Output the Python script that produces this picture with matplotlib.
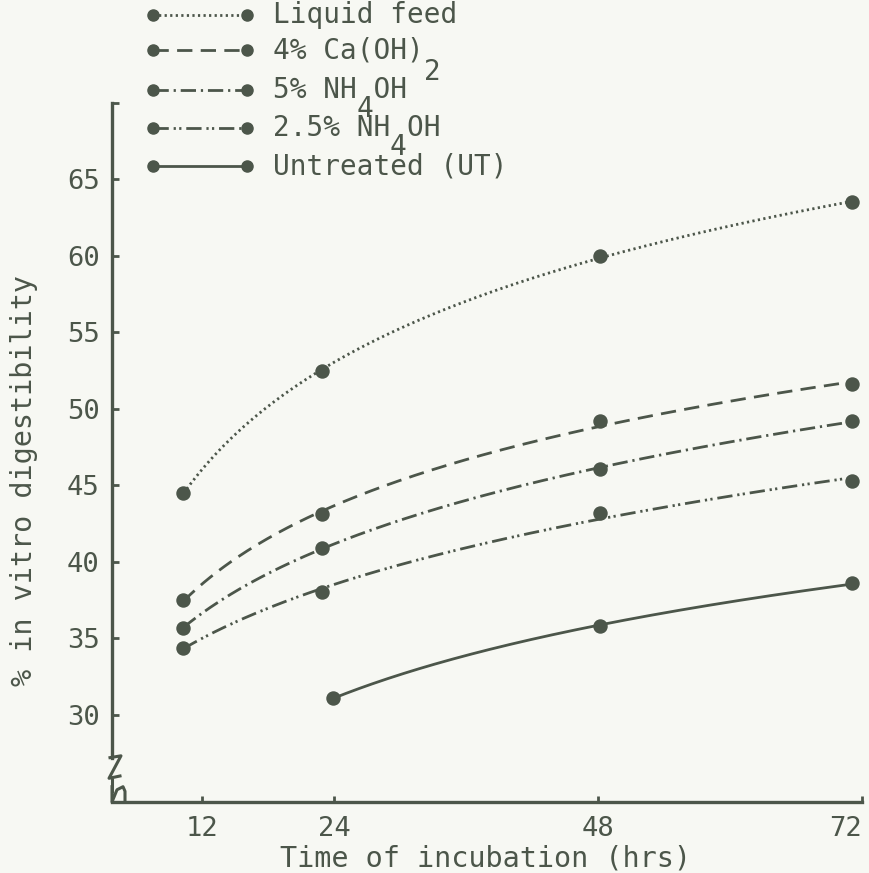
import numpy as np
import matplotlib
matplotlib.use("Agg")
import matplotlib.pyplot as plt
from matplotlib.lines import Line2D
from matplotlib.transforms import offset_copy

plt.rcParams['font.family'] = ['DejaVu Sans Mono']
plt.rcParams['lines.scale_dashes'] = False

ink = '#4c564a'
paper = '#f7f8f3'

# x positions as drawn on the sheet (points sit a little left of the ticks)
hours = [10.3, 22.9, 48.2, 71.1]
hours_ut = [23.9, 48.2, 71.1]

liquid_feed = [44.5, 52.5, 60.0, 63.5]
ca_oh2_4 = [37.5, 43.1, 49.2, 51.6]
nh4oh_5 = [35.7, 40.9, 46.1, 49.2]
nh4oh_25 = [34.4, 38.0, 43.2, 45.3]
untreated = [31.1, 35.8, 38.6]

x_ticks = [12, 24, 48, 72]
y_ticks = [30, 35, 40, 45, 50, 55, 60, 65, 70]
y_ticklabels = ['30', '35', '40', '45', '50', '55', '60', '65', '']

labels = ['Liquid feed', '4% Ca(OH)2', '5% NH4OH', '2.5% NH4OH',
          'Untreated (UT)']
sub_index = [None, 9, 5, 7, None]
sub_drop = [0, 16, 14, 14, 0]

dashes = [(0, (1.6, 2.4)),
          (0, (11, 6)),
          (0, (11, 3.5, 1.6, 3.5)),
          (0, (11, 3.5, 1.6, 2.4, 1.6, 3.5)),
          '-']

series = [(hours, liquid_feed, 2),
          (hours, ca_oh2_4, 2),
          (hours, nh4oh_5, 2),
          (hours, nh4oh_25, 2),
          (hours_ut, untreated, 1)]


def smooth(x, y, deg):
    # smooth curve through the points, fitted in log(time)
    lx = np.log(x)
    c = np.polyfit(lx, y, deg)
    xs = np.linspace(x[0], x[-1], 200)
    return xs, np.polyval(c, np.log(xs))


W, H = 869, 873
fig = plt.figure(figsize=(W / 100, H / 100), dpi=100, facecolor=paper)
ax = fig.add_axes([112 / W, 71 / H, 750 / W, 699 / H])
ax.set_facecolor(paper)

ylo, yhi = 24.3, 70
ax.set_xlim(3.8, 72)
ax.set_ylim(ylo, yhi)

for (x, y, deg), ls in zip(series, dashes):
    xs, ys = smooth(np.array(x), np.array(y), deg)
    ax.plot(xs, ys, color=ink, lw=2.0, ls=ls, dash_capstyle='butt')
    ax.plot(x, y, 'o', color=ink, ms=9.4, mec=ink)

for side in ['top', 'right']:
    ax.spines[side].set_visible(False)
for side in ['left', 'bottom']:
    ax.spines[side].set_color(ink)
    ax.spines[side].set_linewidth(2.4)

# axis break on the y axis
brk_top, brk_bot = 27.2, 25.9
ax.spines['left'].set_bounds(brk_top, yhi)
yt = ax.get_yaxis_transform()
px = 1 / 750
ax.plot([0, 0], [ylo + 0.6, brk_bot], color=ink, lw=2.2, transform=yt,
        clip_on=False, solid_capstyle='butt')
ax.plot([-2 * px, 9 * px, -3 * px, 8 * px],
        [brk_top, brk_top + 0.12, brk_bot - 0.05, brk_bot + 0.1],
        color=ink, lw=2.2, transform=yt, clip_on=False)
ax.plot([0, 0, 5 * px, 11 * px, 13 * px, 13 * px],
        [ylo + 1.0, ylo, ylo + 0.8, ylo + 1.0, ylo + 0.7, ylo],
        color=ink, lw=2.2, transform=yt, clip_on=False)

ax.set_xticks(x_ticks)
ax.set_yticks(y_ticks)
ax.set_yticklabels(y_ticklabels)
ax.tick_params(axis='y', direction='in', length=5, width=2, color=ink,
               labelcolor=ink, labelsize=19.5, pad=9)
ax.tick_params(axis='x', direction='in', length=4, width=2, color=ink,
               labelcolor=ink, labelsize=19.5, pad=10)
ax.get_xticklabels()[-1].set_ha('right')

fig.text(24 / W, 1 - 480 / H, '% in vitro digestibility', rotation=90,
         ha='center', va='center', fontsize=20.5, color=ink)
fig.text(486 / W, 1 - 858 / H, 'Time of incubation (hrs)',
         ha='center', va='center', fontsize=20.5, color=ink)

# hand-drawn key at the top
rows = [15, 50, 90, 128, 166]
fs = 20
for lab, si, drop, ls, r in zip(labels, sub_index, sub_drop, dashes, rows):
    yf = 1 - r / H
    fig.add_artist(Line2D([153 / W, 247 / W], [yf, yf], color=ink, lw=2.0,
                          ls=ls, dash_capstyle='butt', marker='o', ms=8,
                          transform=fig.transFigure))
    if si is None:
        main, sub = lab, ''
    else:
        main, sub = lab[:si] + ' ' + lab[si + 1:], lab[si]
    fig.text(273 / W, yf, main, ha='left', va='center', fontsize=fs,
             color=ink)
    if sub:
        tr = offset_copy(fig.transFigure, fig=fig,
                         x=si * 0.602 * fs, y=-drop, units='points')
        fig.text(273 / W, yf, sub, ha='left', va='center', fontsize=fs,
                 color=ink, transform=tr)

fig.savefig('out.png', dpi=100, facecolor=paper)
